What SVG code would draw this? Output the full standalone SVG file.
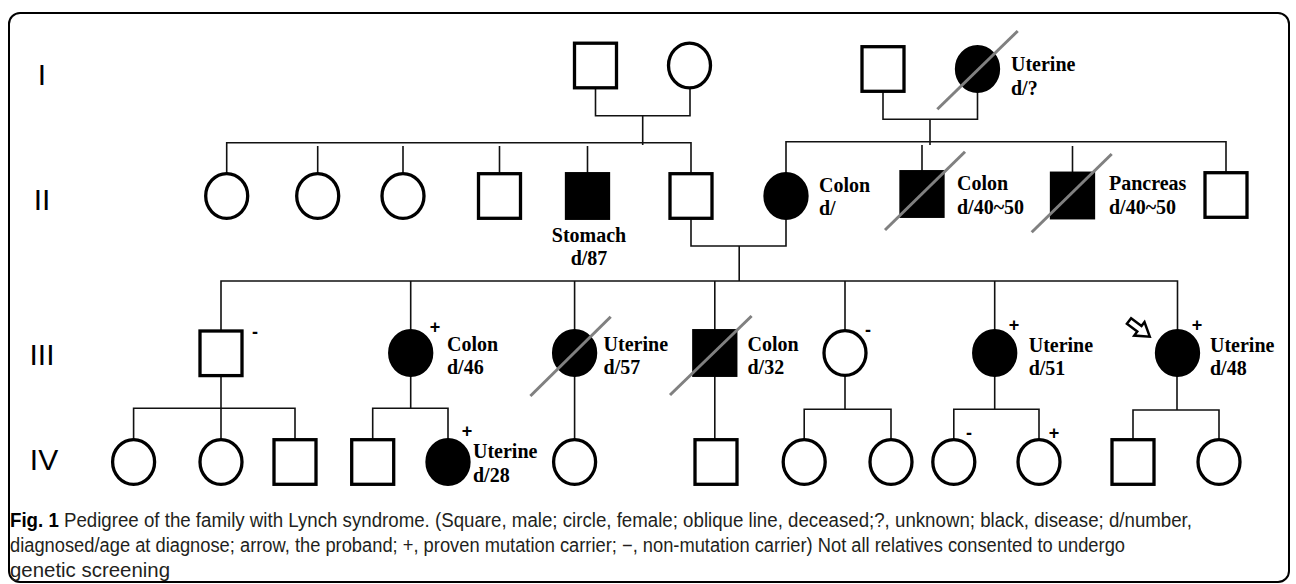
<svg xmlns="http://www.w3.org/2000/svg" width="1296" height="584" viewBox="0 0 1296 584">
<defs>
<style>
.m{fill:#fff;stroke:#000;stroke-width:3.3}
.a{fill:#000;stroke:#000;stroke-width:3.3}
.dec{stroke:#808080;stroke-width:3;fill:none}
.ln{fill:none;stroke:#111;stroke-width:1.6}
.lbl{font-family:"Liberation Serif","Times New Roman",serif;font-weight:bold;font-size:20px;fill:#000}
.mid{text-anchor:middle}
.gen{font-family:"Liberation Sans",Arial,sans-serif;font-size:30px;fill:#000;text-anchor:middle}
.sign{font-family:"Liberation Sans",Arial,sans-serif;font-weight:bold;font-size:18px;fill:#000;text-anchor:middle}
.cap{font-family:"Liberation Sans",Arial,sans-serif;font-size:19.5px;fill:#231f20}
.capb{font-weight:bold;fill:#000}
.arrow{fill:#fff;stroke:#000;stroke-width:2.5;stroke-linejoin:miter}
</style>
<rect id="sq" x="-21" y="-22.3" width="42" height="44.6"/>
<ellipse id="ci" cx="0" cy="0" rx="21" ry="22.3"/>
</defs>
<rect x="9" y="13" width="1280" height="569" rx="11" fill="#fff" stroke="#000" stroke-width="2"/>

<g id="generation-labels">
<text class="gen" x="42" y="85">I</text>
<text class="gen" x="42" y="210">II</text>
<text class="gen" x="42" y="365">III</text>
<text class="gen" x="44" y="470">IV</text>
</g>

<g id="connectors">
<path class="ln" d="M595.5 89 V115.7 H690 V89"/>
<path class="ln" d="M642.7 115.7 V145"/>
<path class="ln" d="M226.7 174 V142.7 H691 V174"/>
<path class="ln" d="M317.7 146 V174 M403 146 V174 M499.5 146 V174 M587.5 146 V174"/>
<path class="ln" d="M883 92 V119.3 H977.5 V92"/>
<path class="ln" d="M930 119.3 V145"/>
<path class="ln" d="M786 174 V141.7 H1226 V173"/>
<path class="ln" d="M922 145 V172 M1072.5 146 V173"/>
<path class="ln" d="M691 218 V246 H786 V218"/>
<path class="ln" d="M739.2 246 V281"/>
<path class="ln" d="M221 331 V281 H1177.5 V331"/>
<path class="ln" d="M410.7 281 V331 M574.6 281 V331 M714.8 281 V331 M845 281 V331 M994.7 281 V331"/>
<path class="ln" d="M221 375 V440"/>
<path class="ln" d="M133.6 440 V408.3 H295 V440"/>
<path class="ln" d="M410.7 375 V408.3"/>
<path class="ln" d="M372.7 440 V408.3 H448 V440"/>
<path class="ln" d="M574.6 375 V440"/>
<path class="ln" d="M714.8 375 V440"/>
<path class="ln" d="M845 375 V409.3"/>
<path class="ln" d="M804.2 440 V409.3 H891 V440"/>
<path class="ln" d="M994.7 375 V409.3"/>
<path class="ln" d="M953.8 440 V409.3 H1039 V440"/>
<path class="ln" d="M1177 375 V410"/>
<path class="ln" d="M1133 440 V410 H1219 V440"/>
</g>

<g id="I-1"><use href="#sq" class="m" x="595.5" y="65.5"/></g>
<g id="I-2"><use href="#ci" class="m" x="689.5" y="65.5"/></g>
<g id="I-3"><use href="#sq" class="m" x="883" y="69"/></g>
<g id="I-4"><use href="#ci" class="a" x="977.5" y="69"/><line class="dec" x1="937.3" y1="109.3" x2="1017.7" y2="31"/>
<text class="lbl" x="1011" y="71">Uterine</text><text class="lbl" x="1011" y="95">d/?</text></g>

<g id="II-1"><use href="#ci" class="m" x="226.7" y="196"/></g>
<g id="II-2"><use href="#ci" class="m" x="317.7" y="196"/></g>
<g id="II-3"><use href="#ci" class="m" x="403" y="196"/></g>
<g id="II-4"><use href="#sq" class="m" x="499.5" y="196"/></g>
<g id="II-5"><use href="#sq" class="a" x="587.5" y="196"/>
<text class="lbl mid" x="589" y="242">Stomach</text><text class="lbl mid" x="589" y="265">d/87</text></g>
<g id="II-6"><use href="#sq" class="m" x="691" y="196"/></g>
<g id="II-7"><use href="#ci" class="a" x="786" y="196"/>
<text class="lbl" x="819" y="192">Colon</text><text class="lbl" x="819" y="215">d/</text></g>
<g id="II-8"><use href="#sq" class="a" x="922" y="194"/><line class="dec" x1="885" y1="230" x2="965" y2="151.7"/>
<text class="lbl" x="957" y="190">Colon</text><text class="lbl" x="957" y="214">d/40~50</text></g>
<g id="II-9"><use href="#sq" class="a" x="1072.5" y="195.5"/><line class="dec" x1="1031.7" y1="232.3" x2="1111.7" y2="154"/>
<text class="lbl" x="1109" y="190">Pancreas</text><text class="lbl" x="1109" y="214">d/40~50</text></g>
<g id="II-10"><use href="#sq" class="m" x="1226" y="195"/></g>

<g id="III-1"><use href="#sq" class="m" x="221" y="353.3"/><text class="sign" x="255" y="338">-</text></g>
<g id="III-2"><use href="#ci" class="a" x="410.7" y="353"/><text class="sign" x="435" y="333">+</text>
<text class="lbl" x="447" y="351">Colon</text><text class="lbl" x="447" y="374">d/46</text></g>
<g id="III-3"><use href="#ci" class="a" x="574.6" y="353"/><line class="dec" x1="530.4" y1="396" x2="610.7" y2="316.7"/>
<text class="lbl" x="603.6" y="351">Uterine</text><text class="lbl" x="603.6" y="374">d/57</text></g>
<g id="III-4"><use href="#sq" class="a" x="714.8" y="353"/><line class="dec" x1="670" y1="395" x2="751.6" y2="316"/>
<text class="lbl" x="747.5" y="351">Colon</text><text class="lbl" x="747.5" y="374">d/32</text></g>
<g id="III-5"><use href="#ci" class="m" x="845" y="353"/><text class="sign" x="868" y="336">-</text></g>
<g id="III-6"><use href="#ci" class="a" x="994.7" y="353"/><text class="sign" x="1014" y="331">+</text>
<text class="lbl" x="1028.7" y="351.7">Uterine</text><text class="lbl" x="1028.7" y="375">d/51</text></g>
<g id="III-7"><use href="#ci" class="a" x="1177.5" y="353"/><text class="sign" x="1197" y="331">+</text>
<text class="lbl" x="1210" y="351.7">Uterine</text><text class="lbl" x="1210" y="375">d/48</text>
<polygon class="arrow" points="0,-3.5 13,-3.5 13,-8.5 26,0 13,8.5 13,3.5 0,3.5" transform="translate(1129 321) rotate(37)"/></g>

<g id="IV-1"><use href="#ci" class="m" x="133.6" y="462"/></g>
<g id="IV-2"><use href="#ci" class="m" x="221" y="462"/></g>
<g id="IV-3"><use href="#sq" class="m" x="295" y="462"/></g>
<g id="IV-4"><use href="#sq" class="m" x="372.7" y="462"/></g>
<g id="IV-5"><use href="#ci" class="a" x="448" y="462"/><text class="sign" x="467" y="437">+</text>
<text class="lbl" x="473" y="458">Uterine</text><text class="lbl" x="473" y="482">d/28</text></g>
<g id="IV-6"><use href="#ci" class="m" x="574.6" y="462"/></g>
<g id="IV-7"><use href="#sq" class="m" x="716" y="462"/></g>
<g id="IV-8"><use href="#ci" class="m" x="804.2" y="462"/></g>
<g id="IV-9"><use href="#ci" class="m" x="891" y="462"/></g>
<g id="IV-10"><use href="#ci" class="m" x="953.8" y="462"/><text class="sign" x="969" y="439">-</text></g>
<g id="IV-11"><use href="#ci" class="m" x="1039" y="462"/><text class="sign" x="1054" y="438.7">+</text></g>
<g id="IV-12"><use href="#sq" class="m" x="1133" y="462"/></g>
<g id="IV-13"><use href="#ci" class="m" x="1219" y="462"/></g>

<g id="caption">
<text class="cap" x="10" y="527" textLength="1182" lengthAdjust="spacingAndGlyphs"><tspan class="capb">Fig. 1</tspan> Pedigree of the family with Lynch syndrome. (Square, male; circle, female; oblique line, deceased;?, unknown; black, disease; d/number,</text>
<text class="cap" x="10" y="552" textLength="1115" lengthAdjust="spacingAndGlyphs">diagnosed/age at diagnose; arrow, the proband; +, proven mutation carrier; −, non-mutation carrier) Not all relatives consented to undergo</text>
<text class="cap" x="10" y="577" textLength="160" lengthAdjust="spacingAndGlyphs">genetic screening</text>
</g>
</svg>
